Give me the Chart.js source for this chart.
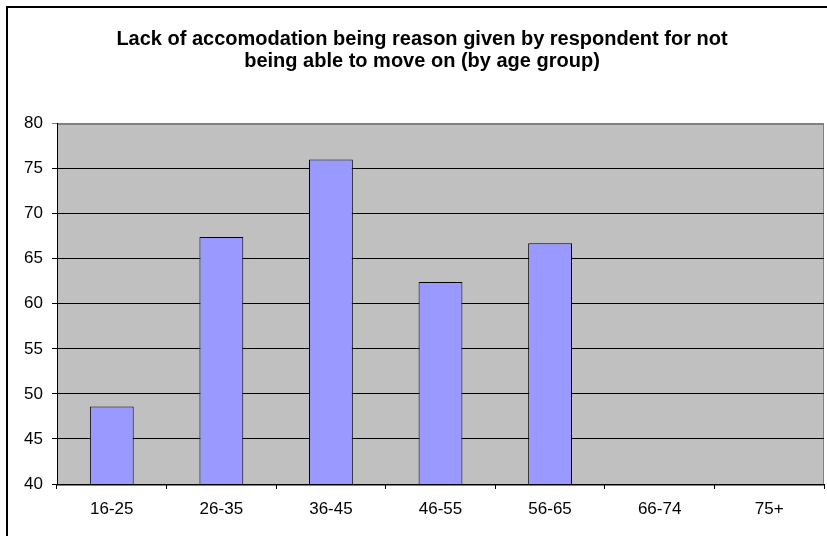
<!DOCTYPE html>
<html>
<head>
<meta charset="utf-8">
<script src="https://cdn.jsdelivr.net/npm/chart.js@4/dist/chart.umd.min.js"></script>
<style>
  html, body { margin: 0; padding: 0; background: #fff; }
  canvas { display: block; }
</style>
</head>
<body>
<canvas id="grafico" width="827" height="536"></canvas>
<script>
const ctx = document.getElementById('grafico');

// Age groups and share (%)
const ageGroups = ['16-25', '26-35', '36-45', '46-55', '56-65', '66-74', '75+'];
const lackOfAccommodation = [48.6, 67.4, 76, 62.4, 66.7, null, null];
const titleLines = [
    'Lack of accomodation being reason given by respondent for not',
    'being able to move on (by age group)'
];

const fontFamily = "'Liberation Sans', Arial, sans-serif";

// grey plot area + outer frame like the old Excel chart
const fundo = {
    id: 'fundo',
    beforeDraw(chart) {
        const c = chart.ctx, a = chart.chartArea;
        c.save();
        c.fillStyle = '#c0c0c0';
        c.fillRect(a.left, a.top, a.right - a.left, a.bottom - a.top);
        c.strokeStyle = '#808080';
        c.lineWidth = 1;
        c.strokeRect(Math.round(a.left) + 0.5, Math.round(a.top) + 0.5,
            Math.round(a.right - a.left) - 1, Math.round(a.bottom - a.top));
        c.restore();
    },
    afterDraw(chart) {
        const c = chart.ctx;
        c.save();
        c.strokeStyle = '#000';
        c.lineWidth = 2;
        c.beginPath();
        c.moveTo(7, chart.height);
        c.lineTo(7, 7);
        c.lineTo(chart.width, 7);
        c.stroke();
        c.restore();
    }
};

new Chart(ctx, {
    type: 'bar',
    data: {
        labels: ageGroups,
        datasets: [{
            data: lackOfAccommodation,
            backgroundColor: '#9999ff',
            borderColor: '#000',
            borderWidth: 1,
            borderSkipped: false,
            categoryPercentage: 1,
            barPercentage: 0.4
        }]
    },
    options: {
        responsive: false,
        animation: false,
        devicePixelRatio: 1,
        layout: { padding: { left: 20, right: 3, top: 0, bottom: 0 } },
        plugins: {
            legend: { display: false },
            tooltip: { enabled: false },
            title: {
                display: true,
                text: titleLines,
                color: '#000',
                font: { family: fontFamily, size: 20, weight: 'bold', lineHeight: 1.1 },
                padding: { top: 28, bottom: 51.5 }
            }
        },
        scales: {
            x: {
                afterFit: s => { s.height = 52; },
                grid: {
                    offset: true,
                    drawOnChartArea: false,
                    drawTicks: true,
                    tickLength: 5,
                    color: '#000'
                },
                border: { display: true, color: '#000', width: 1 },
                ticks: {
                    color: '#000',
                    padding: 10,
                    font: { family: fontFamily, size: 17 }
                }
            },
            y: {
                min: 40,
                max: 80,
                afterFit: s => { s.width = 37; },
                grid: {
                    color: c => (c.tick && c.tick.value === 80) ? '#808080' : '#000',
                    tickLength: 5,
                    drawTicks: true
                },
                border: { display: true, color: '#000', width: 1 },
                ticks: {
                    stepSize: 5,
                    color: '#000',
                    padding: 9,
                    font: { family: fontFamily, size: 17 }
                }
            }
        }
    },
    plugins: [fundo]
});
</script>
</body>
</html>
